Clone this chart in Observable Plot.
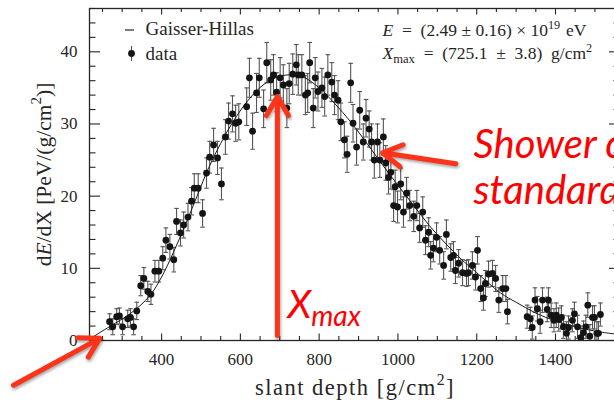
<!DOCTYPE html>
<html>
<head>
<meta charset="utf-8">
<script src="https://cdn.jsdelivr.net/npm/d3@7"></script>
<script src="https://cdn.jsdelivr.net/npm/@observablehq/plot@0.6"></script>
<style>
  html, body { margin: 0; padding: 0; background: #fff; overflow: hidden; }
  #chart { width: 614px; height: 401px; overflow: hidden; }
  #chart svg { max-width: none !important; }
</style>
</head>
<body>
<div id="chart"></div>
<script>
// Longitudinal profile of one air shower: energy deposit dE/dX versus slant depth.

// Measured points: slant depth [g/cm2], dE/dX [PeV/(g/cm2)], 1-sigma uncertainty
const depth = [268, 276, 286, 293, 301, 314, 321, 329, 337, 347, 355, 365, 373, 383, 393, 403, 411, 421, 431, 438,
  448, 456, 467, 476, 483, 493, 504, 514, 522, 532, 542, 552, 562, 570, 580, 588, 596, 616, 623, 631,
  641, 648, 659, 667, 677, 684, 692, 701, 709, 718, 724, 733, 742, 747, 756, 765, 771, 776, 785, 790,
  797, 807, 814, 822, 832, 839, 848, 855, 864, 871, 880, 886, 895, 903, 912, 919, 927, 933, 940, 948,
  954, 963, 969, 976, 982, 989, 993, 999, 1007, 1014, 1022, 1030, 1040, 1048, 1055, 1063, 1070, 1078, 1083, 1090,
  1098, 1106, 1116, 1123, 1134, 1141, 1146, 1154, 1164, 1174, 1179, 1189, 1197, 1202, 1210, 1217, 1222, 1230, 1240, 1248,
  1256, 1266, 1274, 1278, 1328, 1336, 1341, 1348, 1354, 1361, 1367, 1379, 1382, 1389, 1396, 1402, 1408, 1415, 1420, 1428,
  1433, 1443, 1448, 1456, 1464, 1471, 1477, 1482, 1487, 1494, 1499, 1505, 1509, 1514];
const dEdX = [2.6, 1.9, 3.3, 3.4, 1.9, 3.0, 3.2, 1.9, 4.1, 7.6, 8.6, 6.8, 6.4, 9.6, 9.6, 11.4, 13.9, 13.0, 11.2, 16.5,
  14.9, 16.0, 17.1, 19.3, 21.1, 21.1, 17.6, 23.2, 25.4, 27.1, 25.3, 21.7, 28.2, 30.4, 31.4, 30.1, 30.3, 32.4, 36.4, 29.0,
  34.3, 36.4, 32.1, 38.5, 36.1, 36.8, 34.4, 36.4, 35.4, 32.2, 35.6, 36.9, 38.2, 36.8, 36.8, 34.0, 34.3, 38.5, 32.2, 36.4,
  34.5, 35.0, 33.8, 36.8, 35.8, 34.0, 33.3, 30.3, 27.8, 25.8, 35.7, 30.1, 26.8, 31.9, 27.5, 30.8, 29.3, 27.5, 25.0, 27.5,
  25.0, 28.2, 24.6, 22.6, 23.3, 18.7, 21.3, 18.5, 21.7, 17.8, 20.4, 18.7, 17.2, 18.7, 15.6, 17.8, 13.9, 15.0, 11.8, 12.8,
  14.3, 12.5, 10.4, 14.7, 11.5, 11.8, 9.7, 10.7, 9.4, 9.3, 9.4, 10.4, 8.8, 12.5, 7.2, 5.9, 7.9, 9.2, 9.3, 8.6,
  5.6, 7.2, 7.2, 4.0, 3.3, 3.0, 1.8, 5.6, 4.4, 2.6, 5.6, 4.3, 5.6, 3.5, 2.8, 3.5, 2.9, 3.2, 1.9, 1.0,
  1.8, 2.8, 3.7, 1.9, 0.4, 1.1, 1.9, 4.9, 0.6, 3.2, 3.2, 1.0, 1.0, 3.6];
const dEdXerr = [1.1, 1.1, 1.1, 1.1, 1.1, 1.2, 1.2, 1.1, 1.2, 1.4, 1.5, 1.4, 1.4, 1.5, 1.5, 1.6, 1.7, 1.7, 1.7, 1.8,
  1.8, 1.8, 1.9, 1.9, 2.0, 2.0, 1.9, 2.1, 2.2, 2.3, 2.3, 2.2, 2.4, 2.5, 2.5, 2.5, 2.5, 2.6, 2.7, 2.5,
  2.7, 2.7, 2.6, 2.8, 2.8, 2.8, 2.7, 2.8, 2.8, 2.7, 2.8, 2.8, 2.8, 2.8, 2.8, 2.7, 2.7, 2.8, 2.7, 2.8,
  2.7, 2.7, 2.7, 2.8, 2.7, 2.7, 2.7, 2.6, 2.5, 2.5, 2.7, 2.6, 2.5, 2.6, 2.5, 2.6, 2.5, 2.5, 2.5, 2.5,
  2.4, 2.5, 2.4, 2.3, 2.3, 2.2, 2.3, 2.2, 2.2, 2.1, 2.2, 2.1, 2.1, 2.1, 2.0, 2.1, 2.0, 2.0, 1.9, 1.9,
  2.0, 1.9, 1.9, 2.0, 1.9, 1.9, 1.8, 1.9, 1.8, 1.8, 1.8, 1.9, 1.8, 1.9, 1.8, 1.7, 1.8, 1.8, 1.8, 1.8,
  1.7, 1.8, 1.8, 1.7, 1.6, 1.6, 1.6, 1.7, 1.7, 1.6, 1.7, 1.7, 1.7, 1.7, 1.6, 1.7, 1.6, 1.6, 1.6, 1.6,
  1.6, 1.6, 1.6, 1.6, 1.6, 1.6, 1.6, 1.7, 1.6, 1.6, 1.6, 1.6, 1.6, 1.6];

// Gaisser-Hillas fit, sampled along the fitted curve
const fitDepth = [220, 270, 320, 370, 400, 430, 460, 490, 520, 550, 580, 620, 660, 700, 730, 760, 800, 840, 880, 920,
  960, 1000, 1040, 1080, 1120, 1160, 1200, 1260, 1300, 1350, 1400, 1450, 1500, 1565];
const fitdEdX = [0.3, 2.0, 3.7, 6.2, 8.8, 12.2, 16.0, 20.0, 24.0, 27.3, 30.2, 33.3, 35.5, 36.6, 36.8, 36.5, 35.0, 32.8, 30.3, 27.4,
  24.4, 21.5, 18.7, 15.9, 13.5, 11.3, 9.4, 6.6, 5.3, 3.8, 2.7, 1.9, 1.3, 0.8];

// Axis tick labels
const xTickLabels = [400, 600, 800, 1000, 1200, 1400];
const yTickLabels = [0, 10, 20, 30, 40];

// Legend entries and fit results shown in the corners (wider spaces around the operators)
const legendLabels = ["Gaisser-Hillas", "data"];
const fitResultLines = [
  "*E*\u2002=\u2002(2.49 ± 0.16) × 10^{19}\u2004eV",
  "*X*_{max}\u2002=\u2002(725.1\u2002±\u20023.8)\u2002g/cm^{2}"
];

// Red call-outs (arrow tail -> head, in depth / dE/dX units)
const pointers = [
  {x1: 694, y1: 0.7, x2: 694, y2: 33.8},
  {x1: 1147, y1: 24.5, x2: 961, y2: 26.0},
  {x1: 24, y1: -6.2, x2: 243, y2: 0.3}
];
const calloutLines = ["Shower curve", "standard candle"];
const xmaxLabel = "*X*_{max}";
const xTitle = "slant depth [g/cm^{2}]";
const yTitle = "d*E*/dX [PeV/(g/cm^{2})]";

const points = depth.map((X, i) => ({X, v: dEdX[i], e: dEdXerr[i]}));
const fit = fitDepth.map((X, i) => ({X, v: fitdEdX[i]}));

const W = 640, H = 401;
const mL = 89, mR = 20, mT = 8, mB = 61;
const innerW = W - mL - mR, innerH = H - mT - mB;

const serif = "'Liberation Serif', 'DejaVu Serif', serif";
const sans = "Lato, 'Open Sans', sans-serif";
const ink = "#262626";
const red = "#ff0000";
const arrowRed = "#ff3319";
const arrowWidth = 5;

const xMinor = d3.range(250, 1565, 50).filter(d => !xTickLabels.includes(d));
const yMinor = d3.range(0, 47, 2).filter(d => !yTickLabels.includes(d));

// short horizontal and vertical strokes used as dot symbols
const hbar = {draw(ctx, size) { const r = Math.sqrt(size / Math.PI); ctx.moveTo(-r, 0); ctx.lineTo(r, 0); }};
const vbar = {draw(ctx, size) { const r = Math.sqrt(size / Math.PI); ctx.moveTo(0, -r); ctx.lineTo(0, r); }};

// one line of text pinned to the frame's top-left corner; dy is the baseline
const cornerText = (s, dx, dy, o = {}) => Plot.text([s], {text: d => d, frameAnchor: "top-left", dx, dy,
  textAnchor: "start", lineAnchor: "bottom", fill: ink, ...o});

const plot = Plot.plot({
  width: W, height: H,
  marginLeft: mL, marginRight: mR, marginTop: mT, marginBottom: mB,
  x: {domain: [217, 1565]},
  y: {domain: [0, 46]},
  style: {fontFamily: serif, color: ink, background: "#fff", overflow: "visible"},
  marks: [
    // ticks on all four sides, pointing inwards
    Plot.tickX(xTickLabels, {x: d => d, insetTop: innerH - 6.5, stroke: ink, strokeWidth: 1.1}),
    Plot.tickX(xTickLabels, {x: d => d, insetBottom: innerH - 6.5, stroke: ink, strokeWidth: 1.1}),
    Plot.tickX(xMinor, {x: d => d, insetTop: innerH - 4, stroke: ink, strokeWidth: 1.1}),
    Plot.tickX(xMinor, {x: d => d, insetBottom: innerH - 4, stroke: ink, strokeWidth: 1.1}),
    Plot.tickY(yTickLabels, {y: d => d, insetRight: innerW - 11, stroke: ink, strokeWidth: 1.1}),
    Plot.tickY(yTickLabels, {y: d => d, insetLeft: innerW - 11, stroke: ink, strokeWidth: 1.1}),
    Plot.tickY(yMinor, {y: d => d, insetRight: innerW - 6.5, stroke: ink, strokeWidth: 1.1}),
    Plot.tickY(yMinor, {y: d => d, insetLeft: innerW - 6.5, stroke: ink, strokeWidth: 1.1}),
    Plot.axisX({ticks: xTickLabels, tickSize: 0, tickPadding: 12, tickFormat: d3.format("d"), label: null, fontSize: 17, fill: ink}),
    Plot.axisY({ticks: yTickLabels, tickSize: 0, tickPadding: 12, tickFormat: d3.format("d"), label: null, fontSize: 17, fill: ink}),

    // error bars with caps
    Plot.ruleX(points, {x: "X", y1: d => d.v - d.e, y2: d => d.v + d.e, stroke: "#555", strokeWidth: 1.1, clip: true}),
    Plot.dot(points, {x: "X", y: d => d.v + d.e, symbol: hbar, r: 2.3, stroke: "#555", strokeWidth: 1.1, fill: "none", clip: true}),
    Plot.dot(points, {x: "X", y: d => d.v - d.e, symbol: hbar, r: 2.3, stroke: "#555", strokeWidth: 1.1, fill: "none", clip: true}),

    // Gaisser-Hillas fit
    Plot.line(fit, {x: "X", y: "v", curve: "catmull-rom", stroke: "#1a1a1a", strokeWidth: 1}),

    // data points
    Plot.dot(points, {x: "X", y: "v", r: 3.4, fill: "#141414", stroke: "none"}),

    Plot.frame({stroke: ink, strokeWidth: 1.3}),

    // legend
    Plot.dot([0], {frameAnchor: "top-left", dx: 40, dy: 21.5, symbol: hbar, r: 4.5, stroke: ink, strokeWidth: 1.2, fill: "none"}),
    Plot.dot([0], {frameAnchor: "top-left", dx: 42, dy: 45, symbol: vbar, r: 7.5, stroke: "#555", strokeWidth: 1.1, fill: "none"}),
    Plot.dot([0], {frameAnchor: "top-left", dx: 42, dy: 45, r: 3.4, fill: "#141414"}),
    cornerText(legendLabels[0], 56, 26.5, {fontSize: 19}),
    cornerText(legendLabels[1], 56, 51, {fontSize: 19}),

    // fit results
    cornerText(fitResultLines[0], 293, 27.5, {fontSize: 17.5}),
    cornerText(fitResultLines[1], 293, 50.5, {fontSize: 17.5}),

    // axis titles
    Plot.text([xTitle], {text: d => d, frameAnchor: "bottom", dy: 54, textAnchor: "middle", lineAnchor: "bottom",
      fontSize: 22.5, fill: ink}),
    Plot.text([yTitle], {text: d => d, frameAnchor: "left", dx: -39, rotate: -90, textAnchor: "middle", lineAnchor: "bottom",
      fontSize: 21.5, fill: ink}),

    // red call-outs; the arrowhead length scales with the stroke width
    Plot.arrow(pointers, {x1: "x1", y1: "y1", x2: "x2", y2: "y2", stroke: arrowRed, strokeWidth: arrowWidth,
      headLength: 22 * 1.5 / arrowWidth, headAngle: 60}),
    cornerText(calloutLines[0], 384, 149, {fontFamily: sans, fontStyle: "italic", fontSize: 40, fill: red}),
    cornerText(calloutLines[1], 384, 195, {fontFamily: sans, fontStyle: "italic", fontSize: 40, fill: red}),
    cornerText(xmaxLabel, 198, 309, {fontFamily: sans, fontStyle: "italic", fontSize: 39, fill: red})
  ]
});
plot.style.maxWidth = "none";
plot.style.height = H + "px";
document.getElementById("chart").appendChild(plot);

// italics, superscripts and subscripts: *x*, ^{x}, _{x}
plot.querySelectorAll("text").forEach(t => {
  const s = t.textContent;
  if (!/\*|\^\{|_\{/.test(s)) return;
  if (s === xTitle) t.style.letterSpacing = "1.5px";
  const fs = parseFloat(getComputedStyle(t).fontSize);
  t.textContent = "";
  const parts = s.split(/(\*[^*]+\*|\^\{[^}]*\}|_\{[^}]*\})/).filter(p => p !== "");
  let shift = 0;
  for (const p of parts) {
    const ts = document.createElementNS("http://www.w3.org/2000/svg", "tspan");
    let target = 0;
    if (p.startsWith("*")) {
      ts.textContent = p.slice(1, -1);
      ts.setAttribute("font-style", "italic");
    } else if (p.startsWith("^{")) {
      ts.textContent = p.slice(2, -1);
      ts.setAttribute("font-size", fs * 0.7);
      target = -fs * 0.42;
    } else if (p.startsWith("_{")) {
      ts.textContent = p.slice(2, -1);
      ts.setAttribute("font-size", fs * 0.72);
      target = fs * 0.22;
    } else {
      ts.textContent = p;
    }
    if (target !== shift) { ts.setAttribute("dy", target - shift); shift = target; }
    t.appendChild(ts);
  }
});

// soft shadow under the red arrows
plot.querySelectorAll('g[aria-label="arrow"]').forEach(g => {
  g.style.filter = "drop-shadow(1.5px 2px 1.5px rgba(0,0,0,0.35))";
});
</script>
</body>
</html>
